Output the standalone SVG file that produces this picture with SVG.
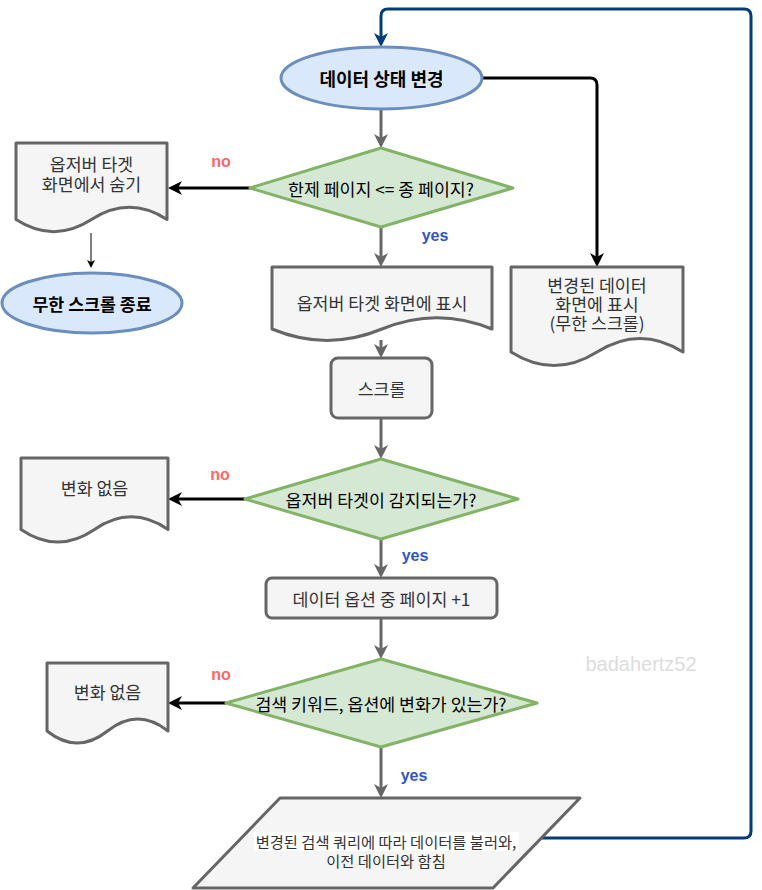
<svg xmlns="http://www.w3.org/2000/svg" width="762" height="890" viewBox="0 0 762 890">
<defs>
<style>
.t{font-family:"Noto Sans CJK KR","Liberation Sans",sans-serif;font-size:17.3px;fill:#333333;text-anchor:middle;dominant-baseline:central}
.tb{font-family:"Noto Sans CJK KR","Liberation Sans",sans-serif;font-size:18px;font-weight:bold;fill:#000000;text-anchor:middle;dominant-baseline:central}
.tk{font-family:"Noto Sans CJK KR","Liberation Sans",sans-serif;font-size:17.3px;fill:#000000;text-anchor:middle;dominant-baseline:central}
.ell{fill:#dae8fc;stroke:#6c8ebf;stroke-width:3}
.dia{fill:#d5e8d4;stroke:#82b366;stroke-width:3;stroke-linejoin:round}
.box{fill:#f5f5f5;stroke:#666666;stroke-width:3;stroke-linejoin:round}
.no{font-family:"Liberation Sans",Arial,sans-serif;font-size:16px;font-weight:bold;fill:#ff6666;text-anchor:middle;dominant-baseline:central}
.yes{font-family:"Liberation Sans",Arial,sans-serif;font-size:16px;font-weight:bold;fill:#3355cc;text-anchor:middle;dominant-baseline:central}
.g{fill:none;stroke:#666666;stroke-width:3;marker-end:url(#ag)}
.k{fill:none;stroke:#000000;stroke-width:3;marker-end:url(#ak)}
.b{fill:none;stroke:#003c78;stroke-width:3;marker-end:url(#ab)}
</style>
<marker id="ag" viewBox="0 0 14 14" refX="4" refY="7" markerWidth="14" markerHeight="14" markerUnits="userSpaceOnUse" orient="auto"><path d="M0,0 L14,7 L0,14 L4,7 z" fill="#666666"/></marker>
<marker id="ak" viewBox="0 0 14 14" refX="4" refY="7" markerWidth="14" markerHeight="14" markerUnits="userSpaceOnUse" orient="auto"><path d="M0,0 L14,7 L0,14 L4,7 z" fill="#000000"/></marker>
<marker id="ab" viewBox="0 0 14 14" refX="4" refY="7" markerWidth="14" markerHeight="14" markerUnits="userSpaceOnUse" orient="auto"><path d="M0,0 L14,7 L0,14 L4,7 z" fill="#003c78"/></marker>
<marker id="at" viewBox="0 0 8 8" refX="2" refY="4" markerWidth="8" markerHeight="8" markerUnits="userSpaceOnUse" orient="auto"><path d="M0,0 L8,4 L0,8 L2,4 z" fill="#000000"/></marker>
</defs>
<rect width="762" height="890" fill="#ffffff"/>

<g id="connectors">
<path class="b" d="M540,838 H744 Q751,838 751,831 V16 Q751,9 744,9 H388 Q381,9 381,16 V37"/>
<path class="k" d="M482,78 H590 Q597,78 597,85 V257"/>
<path class="g" d="M381,109 V138"/>
<path class="k" d="M250,188 H178"/>
<path d="M91,233 V262" fill="none" stroke="#000000" stroke-width="1" marker-end="url(#at)"/>
<path class="g" d="M381,227 V257"/>
<path class="g" d="M381,340 V348"/>
<path class="g" d="M381,418 V449"/>
<path class="k" d="M245,499 H178"/>
<path class="g" d="M381,539 V568"/>
<path class="g" d="M381,618 V649"/>
<path class="k" d="M226,703 H178"/>
<path class="g" d="M381,747 V788"/>
</g>

<g id="labels">
<text class="no" x="221" y="161">no</text>
<text class="yes" x="435" y="235">yes</text>
<text class="no" x="220" y="474">no</text>
<text class="yes" x="415" y="555">yes</text>
<text class="no" x="221" y="674">no</text>
<text class="yes" x="414" y="775">yes</text>
</g>

<g id="start">
<ellipse class="ell" cx="381.5" cy="78" rx="100.5" ry="31"/>
<text class="tb" x="381.5" y="78">데이터 상태 변경</text>
</g>

<g id="decision1">
<polygon class="dia" points="381,148 513,188 381,227 250,188"/>
<text class="tk" x="381" y="188">한제 페이지 &lt;= 종 페이지?</text>
</g>

<g id="hide-target">
<path class="box" d="M16,143 H167 V219.5 Q129.25,195.2 91.5,219.5 Q53.75,243.8 16,219.5 Z"/>
<text class="t" x="91.5" y="163">옵저버 타겟</text>
<text class="t" x="91.5" y="183">화면에서 숨기</text>
</g>

<g id="end">
<ellipse class="ell" cx="92" cy="303" rx="90" ry="30"/>
<text class="tb" style="font-size:17.3px" x="92" y="303">무한 스크롤 종료</text>
</g>

<g id="show-target">
<path class="box" d="M272,267 H492 V329 Q437,306.3 382,329 Q327,351.8 272,329 Z"/>
<text class="t" x="382" y="302">옵저버 타겟 화면에 표시</text>
</g>

<g id="show-data">
<path class="box" d="M511,267 H683 V352 Q640,325 597,352 Q554,379 511,352 Z"/>
<text class="t" x="597" y="284">변경된 데이터</text>
<text class="t" x="597" y="303">화면에 표시</text>
<text class="t" x="597" y="322">(무한 스크롤)</text>
</g>

<g id="scroll">
<rect class="box" x="331" y="358" width="101" height="60" rx="7"/>
<text class="t" x="381.5" y="388">스크롤</text>
</g>

<g id="decision2">
<polygon class="dia" points="381,459 518,499 381,539 245,499"/>
<text class="tk" x="381" y="499">옵저버 타겟이 감지되는가?</text>
</g>

<g id="no-change1">
<path class="box" d="M21,458 H168 V529.4 Q131.25,504.2 94.5,529.4 Q57.75,554.6 21,529.4 Z"/>
<text class="t" x="94.5" y="487">변화 없음</text>
</g>

<g id="page-plus">
<rect class="box" x="266" y="578" width="231" height="40" rx="6"/>
<text class="t" x="381.5" y="598">데이터 옵션 중 페이지 +1</text>
</g>

<g id="decision3">
<polygon class="dia" points="381,659 537,703 381,747 226,703"/>
<text class="tk" x="381" y="703">검색 키워드, 옵션에 변화가 있는가?</text>
</g>

<g id="no-change2">
<path class="box" d="M47,663 H168 V731 Q137.75,707 107.5,731 Q77.25,755 47,731 Z"/>
<text class="t" x="107.5" y="691">변화 없음</text>
</g>

<g id="fetch">
<polygon class="box" points="280,798 580,798 493,888 193,888"/>
<rect x="254" y="832" width="265" height="19" fill="#ffffff"/>
<text class="t" style="font-size:15.3px" x="386" y="841">변경된 검색 쿼리에 따라 데이터를 불러와,</text>
<text class="t" style="font-size:15.3px" x="386" y="860">이전 데이터와 함침</text>
</g>

<text x="641" y="664" font-family="Liberation Sans,Arial,sans-serif" font-size="20" fill="#dddddd" text-anchor="middle" dominant-baseline="central">badahertz52</text>
</svg>
